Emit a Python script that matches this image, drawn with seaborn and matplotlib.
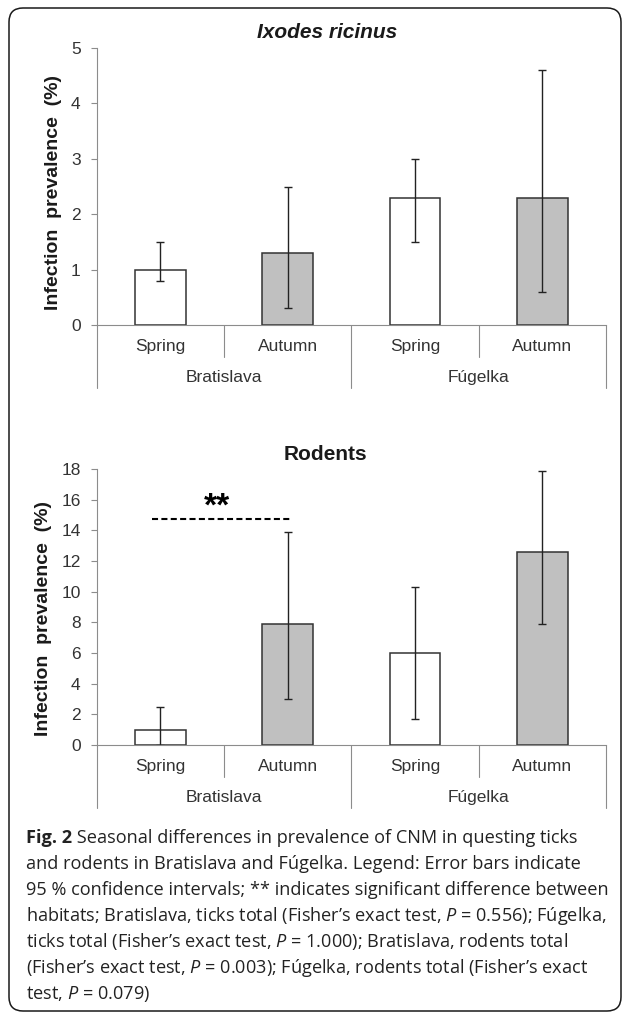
import matplotlib.pyplot as plt
import seaborn as sns
import pandas as pd
from matplotlib.patches import FancyBboxPatch

# data
sites = ["Bratislava", "Bratislava", "Fúgelka", "Fúgelka"]
seasons = ["Spring", "Autumn", "Spring", "Autumn"]
site_names = ["Bratislava", "Fúgelka"]

tick_prev = [1.0, 1.3, 2.3, 2.3]
tick_low = [0.8, 0.3, 1.5, 0.6]
tick_high = [1.5, 2.5, 3.0, 4.6]

rodent_prev = [1.0, 7.9, 6.0, 12.6]
rodent_low = [0.0, 3.0, 1.7, 7.9]
rodent_high = [2.5, 13.9, 10.3, 17.9]

caption_head = "Fig. 2"
caption = [
    " Seasonal differences in prevalence of CNM in questing ticks",
    "and rodents in Bratislava and Fúgelka. Legend: Error bars indicate",
    "95 % confidence intervals; ** indicates significant difference between",
    "habitats; Bratislava, ticks total (Fisher’s exact test, $P$ = 0.556); Fúgelka,",
    "ticks total (Fisher’s exact test, $P$ = 1.000); Bratislava, rodents total",
    "(Fisher’s exact test, $P$ = 0.003); Fúgelka, rodents total (Fisher’s exact",
    "test, $P$ = 0.079)",
]

sns.set_style("white")
plt.rcParams["font.family"] = ["Liberation Sans", "DejaVu Sans"]
plt.rcParams["mathtext.fontset"] = "custom"
plt.rcParams["mathtext.rm"] = "Open Sans"
plt.rcParams["mathtext.it"] = "Open Sans:italic"
plt.rcParams["mathtext.bf"] = "Open Sans:bold"

W, H = 627, 1014
fig = plt.figure(figsize=(W / 100, H / 100), dpi=100)

AXIS_GREY = "#8c8c8c"
TEXT = "#333333"
LABEL_SIZE = 12.5
CAP_SIZE = 13.1


def px(x, y):
    return x / W, 1 - y / H


def draw_panel(ax, prev, low, high, ymax, step):
    df = pd.DataFrame({
        "group": [f"{s} {t}" for s, t in zip(sites, seasons)],
        "season": seasons,
        "prev": prev,
    })
    sns.barplot(
        data=df, x="group", y="prev", hue="season",
        palette={"Spring": "white", "Autumn": "#c0c0c0"},
        dodge=False, width=0.4, edgecolor="#333333", linewidth=1.1,
        legend=False, ax=ax
    )
    yerr = [[p - l for p, l in zip(prev, low)], [h - p for p, h in zip(prev, high)]]
    ax.errorbar(range(4), prev, yerr=yerr, fmt="none", ecolor="#222222",
                elinewidth=1.0, capsize=3, capthick=1.0)

    ax.set_xlim(-0.5, 3.5)
    ax.set_ylim(0, ymax)
    ax.set_yticks(range(0, ymax + 1, step))
    ax.set_xticks([])
    ax.set_xlabel("")
    ax.set_ylabel("")
    for side in ["top", "right"]:
        ax.spines[side].set_visible(False)
    for side in ["left", "bottom"]:
        ax.spines[side].set_color(AXIS_GREY)
        ax.spines[side].set_linewidth(0.8)
    ax.tick_params(axis="y", left=True, length=4, width=0.8, color=AXIS_GREY,
                   labelsize=LABEL_SIZE, labelcolor=TEXT, pad=7.5)

    tr = ax.get_xaxis_transform()
    for i, s in enumerate(seasons):
        ax.text(i, -0.079, s, transform=tr, ha="center", va="center",
                fontsize=LABEL_SIZE, color=TEXT)
    for j, name in enumerate(site_names):
        ax.text(2 * j + 0.5, -0.191, name, transform=tr, ha="center",
                va="center", fontsize=LABEL_SIZE, color=TEXT)
    for x in [-0.5, 1.5, 3.5]:
        ax.plot([x, x], [0, -0.227], transform=tr, color=AXIS_GREY, lw=0.8,
                clip_on=False)
    for x in [0.5, 2.5]:
        ax.plot([x, x], [0, -0.1155], transform=tr, color=AXIS_GREY, lw=0.8,
                clip_on=False)


ax1 = fig.add_axes([96.7 / W, 1 - 325 / H, 509.3 / W, 277 / H])
draw_panel(ax1, tick_prev, tick_low, tick_high, 5, 1)

ax2 = fig.add_axes([96.7 / W, 1 - 745 / H, 509.3 / W, 276 / H])
draw_panel(ax2, rodent_prev, rodent_low, rodent_high, 18, 2)

# significance marker
ax2.plot([-0.066, 1.026], [14.72, 14.72], color="black", lw=1.5,
         linestyle=(0, (2.9, 1.6)))
ax2.text(0.445, 15.5, "**", ha="center", va="center", fontsize=24,
         fontweight="bold", color="black")

# titles and y labels
fig.text(*px(327, 33), "Ixodes ricinus", ha="center", va="center",
         fontsize=15, fontweight="bold", style="italic", color="#1a1a1a")
fig.text(*px(325, 455), "Rodents", ha="center", va="center",
         fontsize=15, fontweight="bold", color="#1a1a1a")
for xc, yc in [(54, 192), (44, 618)]:
    fig.text(*px(xc, yc), "Infection  prevalence  (%)", rotation=90,
             ha="center", va="center", fontsize=14, fontweight="bold",
             color="#1a1a1a")

# caption
cap_font = ["Open Sans", "DejaVu Sans"]
head = fig.text(*px(26, 843), caption_head, ha="left", va="baseline",
                fontsize=CAP_SIZE, fontweight="bold", family=cap_font, color="#222222")
renderer = fig.canvas.get_renderer()
head_end = head.get_window_extent(renderer).x1
for k, line in enumerate(caption):
    x0 = head_end if k == 0 else 26
    fig.text(x0 / W, 1 - (843 + 26 * k) / H, line, ha="left", va="baseline",
             fontsize=CAP_SIZE, family=cap_font, color="#222222")

# rounded frame
frame = FancyBboxPatch((9, 3), 612, 1003, boxstyle="round,pad=0,rounding_size=14",
                       transform=None, fill=False, edgecolor="#1a1a1a", lw=1.1)
fig.patches.append(frame)

plt.savefig("out.png", dpi=100)
plt.close()
